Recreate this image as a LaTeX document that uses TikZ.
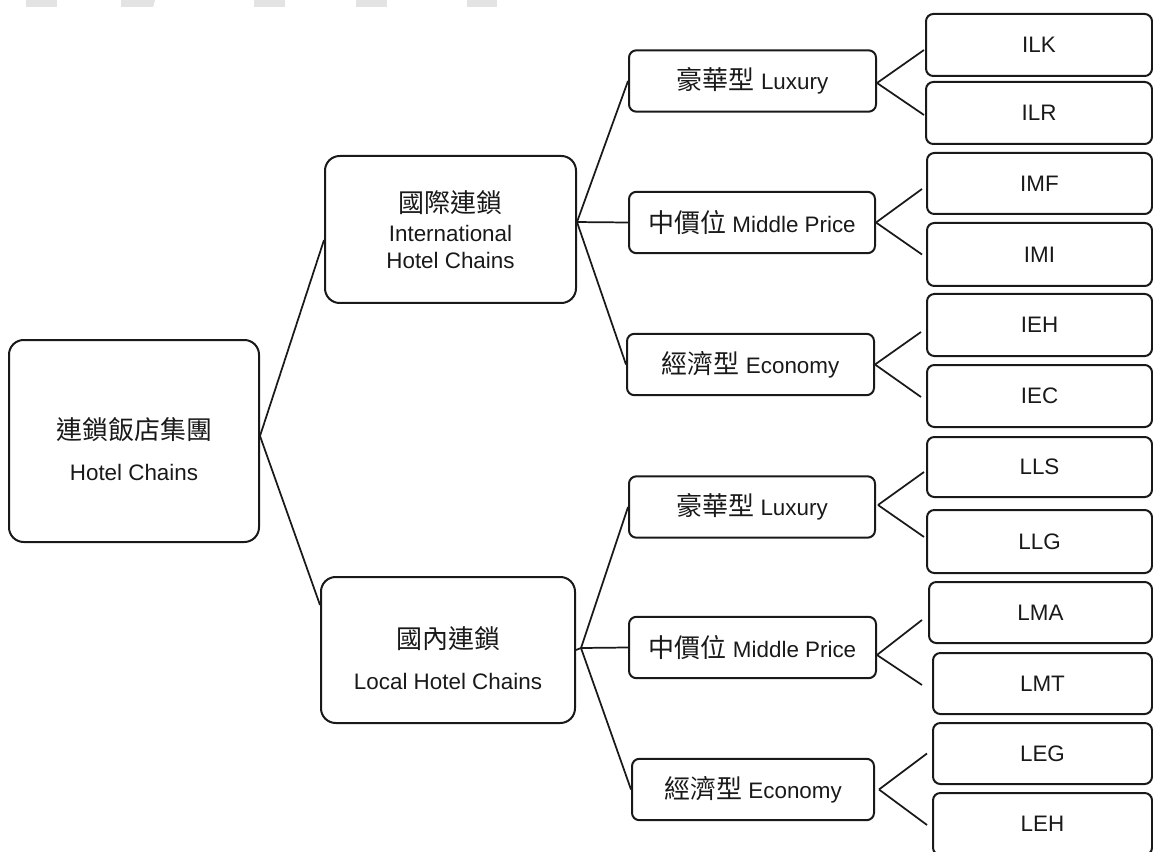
\documentclass[tikz,border=0pt]{standalone}
\usepackage{fontspec}
\setmainfont{Liberation Sans}
\newfontfamily\cjk{Noto Sans CJK TC}
\usetikzlibrary{calc}
\newcommand\zh[1]{{\cjk\fontsize{19.5pt}{20.25pt}\selectfont #1}}
\begin{document}
\begin{tikzpicture}[x=0.75pt,y=-0.75pt,
  box/.style={draw=black!90, line width=1.5pt, rectangle, align=center, inner sep=2pt,
    font=\fontsize{16.8pt}{20.25pt}\selectfont, text=black!90},
  bigbox/.style={box, rounded corners=11pt},
  midbox/.style={box, rounded corners=5.5pt, minimum height=46pt},
  leaf/.style={box, rounded corners=5.5pt},
  link/.style={draw=black!90, line width=1.3pt},
  smudge/.style={fill=black!11, draw=none}]
\useasboundingbox (0,0) rectangle (1153,852);
\clip (0,0) rectangle (1153,852);

% cut-off gray marks at the top edge
\fill[smudge] (26,0) rectangle (57,7);
\fill[smudge] (121,0) -- (155,0) -- (153,7) -- (121,7) -- cycle;
\fill[smudge] (254,0) rectangle (285,7);
\fill[smudge] (356,0) rectangle (387,7);
\fill[smudge] (467,0) rectangle (497,7);

% root
\node[bigbox, minimum width=187.5pt, minimum height=151.5pt] (root) at (134,441)
  {\rule{0pt}{28pt}\zh{連鎖飯店集團}\\[10.5pt]Hotel Chains};

% level 1
\node[bigbox, minimum width=188.25pt, minimum height=110.25pt] (intl) at (450.5,229.5)
  {\zh{國際連鎖}\\[1.5pt]International\\Hotel Chains};
\node[bigbox, minimum width=190.5pt, minimum height=109.5pt] (local) at (448,650)
  {\rule{0pt}{28pt}\zh{國內連鎖}\\[10.5pt]Local Hotel Chains};

% level 2
\node[midbox, minimum width=185.25pt] (luxI) at (752.5,81)    {\zh{豪華型} Luxury};
\node[midbox, minimum width=184.5pt]  (midI) at (752,222.5)   {\zh{中價位} Middle Price};
\node[midbox, minimum width=185.25pt] (ecoI) at (750.5,364.5) {\zh{經濟型} Economy};
\node[midbox, minimum width=184.5pt]  (luxL) at (752,507)     {\zh{豪華型} Luxury};
\node[midbox, minimum width=185.25pt] (midL) at (752.5,647.5) {\zh{中價位} Middle Price};
\node[midbox, minimum width=181.5pt]  (ecoL) at (753,789.5)   {\zh{經濟型} Economy};

% leaves
\node[leaf, minimum width=169.5pt,  minimum height=46.5pt]  (ILK) at (1039,45)     {ILK};
\node[leaf, minimum width=169.5pt,  minimum height=46.5pt]  (ILR) at (1039,113)    {ILR};
\node[leaf, minimum width=168.75pt, minimum height=45.75pt] (IMF) at (1039.5,183.5) {IMF};
\node[leaf, minimum width=168.75pt, minimum height=47.25pt] (IMI) at (1039.5,254.5) {IMI};
\node[leaf, minimum width=168.75pt, minimum height=46.5pt]  (IEH) at (1039.5,325)  {IEH};
\node[leaf, minimum width=168.75pt, minimum height=46.5pt]  (IEC) at (1039.5,396)  {IEC};
\node[leaf, minimum width=168.75pt, minimum height=45pt]    (LLS) at (1039.5,467)  {LLS};
\node[leaf, minimum width=168.75pt, minimum height=47.25pt] (LLG) at (1039.5,541.5) {LLG};
\node[leaf, minimum width=167.25pt, minimum height=45.75pt] (LMA) at (1040.5,612.5) {LMA};
\node[leaf, minimum width=164.25pt, minimum height=45.75pt] (LMT) at (1042.5,683.5) {LMT};
\node[leaf, minimum width=164.25pt, minimum height=45.75pt] (LEG) at (1042.5,753.5) {LEG};
\node[leaf, minimum width=164.25pt, minimum height=46.5pt]  (LEH) at (1042.5,824)  {LEH};

% connectors: root
\draw[link] ([yshift=3.75pt]root.east) -- ([yshift=-7.9pt]intl.west);
\draw[link] ([yshift=3.75pt]root.east) -- ([yshift=33.75pt]local.west);
% international
\draw[link] ([yshift=5.6pt]intl.east) -- (luxI.west);
\draw[link] ([yshift=5.6pt]intl.east) -- (midI.west);
\draw[link] ([yshift=5.6pt]intl.east) -- (ecoI.west);
% local
\draw[link] ([xshift=3.75pt,yshift=1.5pt]local.east) -- (local.east);
\draw[link] ([xshift=3.75pt,yshift=1.5pt]local.east) -- (luxL.west);
\draw[link] ([xshift=3.75pt,yshift=1.5pt]local.east) -- (midL.west);
\draw[link] ([xshift=3.75pt,yshift=1.5pt]local.east) -- (ecoL.west);
% level 2 -> leaves
\draw[link] ([yshift=-1.5pt]luxI.east) -- ([xshift=-0.75pt,yshift=-3.75pt]ILK.west);
\draw[link] ([yshift=-1.5pt]luxI.east) -- ([xshift=-0.75pt,yshift=-1.5pt]ILR.west);
\draw[link] (midI.east) -- ([xshift=-3pt,yshift=-4.1pt]IMF.west);
\draw[link] (midI.east) -- ([xshift=-3pt]IMI.west);
\draw[link] (ecoI.east) -- ([xshift=-3.75pt,yshift=-5.25pt]IEH.west);
\draw[link] (ecoI.east) -- ([xshift=-3.75pt,yshift=-0.75pt]IEC.west);
\draw[link] ([xshift=1.5pt,yshift=1.5pt]luxL.east) -- ([xshift=-1.5pt,yshift=-3.75pt]LLS.west);
\draw[link] ([xshift=1.5pt,yshift=1.5pt]luxL.east) -- ([xshift=-1.5pt,yshift=3.4pt]LLG.west);
\draw[link] ([yshift=-5.6pt]midL.east) -- ([xshift=-4.5pt,yshift=-5.6pt]LMA.west);
\draw[link] ([yshift=-5.6pt]midL.east) -- ([xshift=-7.5pt,yshift=-1.1pt]LMT.west);
\draw[link] ([xshift=3pt]ecoL.east) -- ([xshift=-3.75pt]LEG.west);
\draw[link] ([xshift=3pt]ecoL.east) -- ([xshift=-3.75pt,yshift=-0.75pt]LEH.west);
\end{tikzpicture}
\end{document}
